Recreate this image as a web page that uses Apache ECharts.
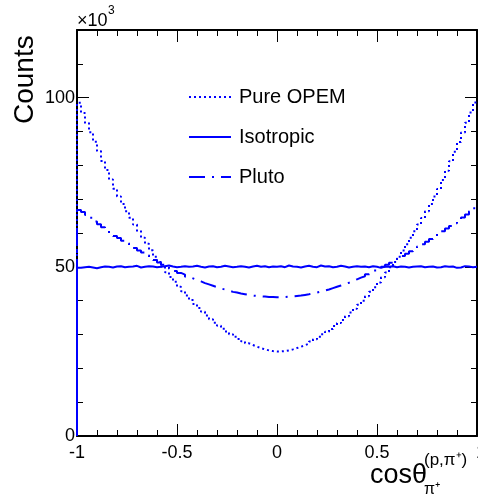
<!DOCTYPE html>
<html>
<head>
<meta charset="utf-8">
<script src="https://cdn.jsdelivr.net/npm/echarts@6/dist/echarts.min.js"></script>
<style>
  html, body { margin: 0; padding: 0; background: #fff; }
  #chart { width: 478px; height: 498px; }
</style>
</head>
<body>
<div id="chart"></div>
<script>
// 直方图: 100 个 bin, 从 -1 到 1
var binLow = -1;
var binWidth = 0.02;
var xTicks = ['-1', '-0.5', '0', '0.5', '1'];
var yTicks = ['0', '50', '100'];
var seriesNames = ['Pure OPEM', 'Isotropic', 'Pluto'];

// 单位: ×10^3 counts
var opem = [
  98.5, 95.5, 92.5, 89.8, 87.0, 84.2, 81.3, 78.6, 75.8, 73.1,
  70.8, 68.6, 66.4, 64.5, 62.5, 60.6, 58.6, 56.8, 54.9, 53.0,
  51.4, 50.0, 48.4, 47.0, 45.6, 44.1, 42.8, 41.5, 40.2, 39.0,
  37.8, 36.7, 35.6, 34.5, 33.5, 32.6, 31.7, 30.9, 30.1, 29.3,
  28.7, 28.0, 27.4, 26.9, 26.4, 26.0, 25.6, 25.3, 25.1, 25.0,
  25.0, 25.1, 25.3, 25.6, 26.0, 26.4, 26.8, 27.3, 27.9, 28.6,
  29.3, 30.1, 30.8, 31.6, 32.5, 33.4, 34.3, 35.4, 36.5, 37.6,
  38.8, 40.0, 41.3, 42.6, 44.0, 45.4, 46.9, 48.3, 49.9, 51.4,
  53.0, 54.8, 56.7, 58.6, 60.5, 62.5, 64.4, 66.4, 68.6, 70.8,
  73.0, 75.7, 78.4, 81.2, 84.0, 86.9, 89.7, 92.6, 95.6, 98.6
];
var isotropic = [
  49.7, 49.9, 50.0, 49.8, 49.6, 49.9, 50.1, 50.0, 49.8, 50.1,
  50.2, 49.9, 50.0, 50.1, 50.3, 49.8, 50.0, 50.2, 50.1, 49.9,
  50.0, 50.2, 50.4, 50.1, 49.9, 50.0, 50.2, 50.0, 50.1, 50.3,
  50.0, 49.8, 50.1, 50.2, 49.9, 50.0, 50.3, 50.1, 49.9, 50.0,
  50.2, 50.0, 49.8, 50.1, 50.3, 50.0, 50.2, 49.9, 50.1, 50.0,
  50.2, 49.9, 50.4, 50.1, 50.0, 49.8, 50.1, 50.3, 50.0, 49.9,
  50.4, 50.1, 50.2, 49.9, 50.0, 50.3, 50.1, 49.8, 50.0, 50.2,
  50.0, 50.1, 49.9, 50.2, 50.0, 49.7, 50.1, 50.0, 50.2, 49.9,
  50.1, 50.0, 49.8, 50.0, 50.1, 50.2, 49.9, 50.0, 50.1, 49.8,
  49.9, 50.2, 50.0, 50.1, 49.7, 49.8, 50.2, 50.1, 49.9, 50.0
];
var pluto = [
  66.8, 66.2, 65.3, 64.5, 63.4, 62.6, 61.7, 60.8, 60.0, 59.1,
  58.5, 57.7, 57.0, 56.3, 55.6, 54.8, 54.2, 53.4, 52.7, 52.0,
  51.3, 50.6, 50.0, 49.4, 48.8, 48.2, 47.7, 47.1, 46.6, 46.1,
  45.7, 45.2, 44.8, 44.4, 44.0, 43.6, 43.3, 43.0, 42.6, 42.4,
  42.1, 41.9, 41.7, 41.5, 41.4, 41.3, 41.2, 41.1, 41.1, 41.0,
  41.0, 41.1, 41.2, 41.3, 41.4, 41.5, 41.7, 41.9, 42.2, 42.4,
  42.7, 43.0, 43.3, 43.7, 44.1, 44.5, 44.9, 45.3, 45.8, 46.3,
  46.8, 47.2, 47.8, 48.3, 48.9, 49.4, 50.0, 50.6, 51.2, 51.9,
  52.5, 53.2, 53.9, 54.6, 55.3, 56.0, 56.7, 57.4, 58.2, 58.9,
  59.7, 60.5, 61.3, 62.1, 62.9, 63.7, 64.6, 65.5, 66.4, 67.3
];

// 转成 step 折线: 从 (-1, 0) 起, 每个点放在 bin 的右边缘
function toSteps(vals) {
  var pts = [[binLow, 0]];
  for (var i = 0; i < vals.length; i++) {
    pts.push([+(binLow + (i + 1) * binWidth).toFixed(2), vals[i]]);
  }
  return pts;
}

var font = '"Liberation Sans", Arial, Helvetica, sans-serif';
var blue = '#0000ff';

var myChart = echarts.init(document.getElementById('chart'), null, { renderer: 'canvas' });

var majorTick = { show: true, inside: true, length: 12, lineStyle: { color: '#000', width: 1 } };
var minorTick = { show: true, inside: true, length: 6, lineStyle: { color: '#000', width: 1 } };
var frameLine = { show: true, onZero: false, lineStyle: { color: '#000', width: 2 } };
var noLine = { show: false, onZero: false };

option = {
  backgroundColor: '#fff',
  animation: false,
  grid: { left: 77, right: 1, top: 30, bottom: 62, containLabel: false, outerBoundsMode: 'none' },
  legend: {
    orient: 'vertical',
    left: 188,
    top: 87,
    padding: 0,
    itemWidth: 42,
    itemHeight: 14,
    itemGap: 20,
    itemStyle: { opacity: 0 },
    textStyle: { fontFamily: font, fontSize: 20, color: '#000', padding: [0, 0, 0, 3] },
    data: seriesNames
  },
  xAxis: [
    {
      type: 'value', position: 'bottom', min: -1, max: 1, interval: 0.5,
      axisLine: frameLine,
      axisTick: majorTick,
      minorTick: { show: true, splitNumber: 5, length: 6, lineStyle: { color: '#000', width: 1 } },
      splitLine: { show: false },
      axisLabel: {
        fontFamily: font, fontSize: 18, color: '#000', margin: 8,
        formatter: function (v) {
          var s = xTicks[Math.round((v + 1) / 0.5)];
          // 最右边的 "1" 在画布边缘被截掉
          return v === 1 ? '{e|' + s + '}' : s;
        },
        rich: { e: { fontFamily: font, fontSize: 18, color: '#000', padding: [0, 0, 0, 8] } }
      }
    },
    {
      type: 'value', position: 'top', min: -1, max: 1, interval: 0.5,
      axisLine: frameLine,
      axisTick: majorTick,
      minorTick: { show: true, splitNumber: 5, length: 6, lineStyle: { color: '#000', width: 1 } },
      splitLine: { show: false },
      axisLabel: { show: false }
    }
  ],
  yAxis: [
    {
      type: 'value', position: 'left', min: 0, max: 120, interval: 50,
      axisLine: frameLine, axisTick: majorTick, splitLine: { show: false },
      axisLabel: {
        fontFamily: font, fontSize: 18, color: '#000', margin: 2,
        formatter: function (v) { return yTicks[v / 50] || ''; }
      }
    },
    {
      type: 'value', position: 'left', min: 0, max: 120, interval: 10,
      axisLine: noLine, axisTick: minorTick, splitLine: { show: false },
      axisLabel: { show: false }
    },
    {
      type: 'value', position: 'right', min: 0, max: 120, interval: 50,
      axisLine: frameLine, axisTick: majorTick, splitLine: { show: false },
      axisLabel: { show: false }
    },
    {
      type: 'value', position: 'right', min: 0, max: 120, interval: 10,
      axisLine: noLine, axisTick: minorTick, splitLine: { show: false },
      axisLabel: { show: false }
    }
  ],
  graphic: [
    {
      type: 'text',
      rotation: Math.PI / 2,
      style: { text: 'Counts', font: '28px ' + font, fill: '#000' },
      x: 11, y: 124, originX: 0, originY: 0
    },
    {
      type: 'text', x: 77, y: 12,
      style: { text: '×10', font: '18px ' + font, fill: '#000' }
    },
    {
      type: 'text', x: 108, y: 5,
      style: { text: '3', font: '12px ' + font, fill: '#000' }
    },
    {
      type: 'text', x: 370, y: 462,
      style: { text: 'cosθ', font: '27px ' + font, fill: '#000' }
    },
    {
      type: 'text', x: 424, y: 452,
      style: { text: '(p,π⁺)', font: '17px ' + font, fill: '#000' }
    },
    {
      type: 'text', x: 424, y: 482,
      style: { text: 'π⁺', font: '16px ' + font, fill: '#000' }
    }
  ],
  series: [
    {
      name: 'Pure OPEM', type: 'line', step: 'start', symbol: 'none',
      data: toSteps(opem),
      lineStyle: { color: blue, width: 2, type: [2, 3] },
      itemStyle: { color: blue }
    },
    {
      name: 'Isotropic', type: 'line', step: 'start', symbol: 'none',
      data: toSteps(isotropic),
      lineStyle: { color: blue, width: 2, type: 'solid' },
      itemStyle: { color: blue }
    },
    {
      name: 'Pluto', type: 'line', step: 'start', symbol: 'none',
      data: toSteps(pluto),
      lineStyle: { color: blue, width: 2, type: [16, 7, 2, 7] },
      itemStyle: { color: blue }
    }
  ]
};

myChart.setOption(option);
</script>
</body>
</html>
